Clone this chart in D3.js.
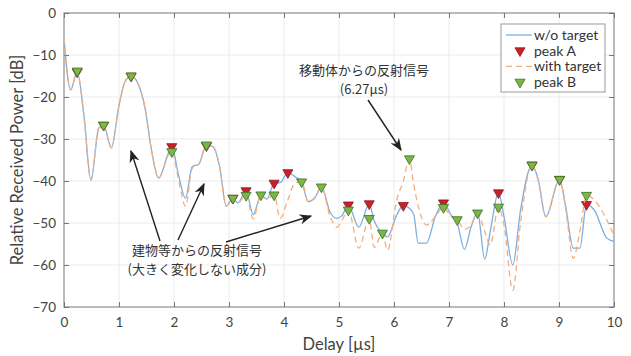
<!DOCTYPE html>
<html>
<head>
<meta charset="utf-8">
<script src="https://cdn.jsdelivr.net/npm/d3@7"></script>
<style>
  body { margin: 0; background: #fff; }
  svg text { font-family: Lato, "Open Sans", sans-serif; }
  .jp { font-family: "Noto Sans CJK JP", sans-serif; }
</style>
</head>
<body>
<div id="chart"></div>
<script>
// delay axis samples [us]
const delay = [0.00, 0.12, 0.24, 0.36, 0.49, 0.63, 0.72, 0.86, 1.00, 1.11, 1.22, 1.33, 1.48, 1.59, 1.72,
  1.90, 1.96, 2.08, 2.21, 2.33, 2.45, 2.59, 2.71, 2.83, 2.95, 3.07, 3.16, 3.31, 3.44, 3.58, 3.69,
  3.82, 3.93, 4.07, 4.20, 4.32, 4.44, 4.56, 4.68, 4.84, 4.96, 5.05, 5.17, 5.36, 5.55, 5.64, 5.79,
  5.88, 6.05, 6.17, 6.28, 6.36, 6.44, 6.59, 6.75, 6.90, 7.04, 7.15, 7.28, 7.40, 7.52, 7.65, 7.75,
  7.90, 8.00, 8.16, 8.30, 8.51, 8.62, 8.76, 9.01, 9.12, 9.26, 9.38, 9.50, 9.64, 9.87, 10.00];
// w/o target
const powerNoTarget = [-6.0, -18.3, -14.0, -24.0, -39.8, -27.5, -26.7, -32.1, -22.0, -16.3, -15.0, -16.4, -23.1, -32.6, -39.3,
  -33.3, -31.8, -38.5, -44.1, -36.6, -36.0, -31.5, -31.8, -36.6, -46.0, -44.1, -45.2, -42.4, -48.0, -43.4, -44.3,
  -40.5, -40.4, -38.0, -39.0, -40.2, -44.9, -44.0, -41.4, -47.5, -48.9, -48.3, -45.8, -51.0, -45.5, -49.5, -52.4,
  -53.3, -48.1, -45.8, -46.5, -48.0, -54.8, -54.8, -48.5, -45.3, -48.1, -50.0, -56.3, -51.0, -47.5, -58.6, -52.0,
  -42.8, -48.5, -60.0, -47.0, -36.2, -39.5, -48.5, -39.6, -46.0, -56.0, -56.0, -45.6, -46.9, -53.6, -54.4];
// with target
const powerTarget = [-6.0, -18.3, -14.0, -24.5, -39.8, -27.5, -26.7, -32.1, -22.0, -16.3, -15.0, -16.4, -23.1, -32.6, -39.3,
  -33.8, -33.0, -39.5, -46.0, -37.0, -36.0, -31.5, -31.8, -36.6, -46.0, -44.1, -45.2, -43.4, -49.0, -43.4, -44.3,
  -43.3, -48.9, -44.5, -40.5, -40.2, -44.9, -44.0, -41.4, -48.5, -51.0, -49.5, -46.9, -56.0, -48.9, -55.8, -52.4,
  -56.5, -44.5, -40.0, -34.7, -41.0, -46.0, -50.5, -48.5, -46.3, -48.5, -49.2, -51.5, -50.5, -47.6, -52.0, -55.2,
  -46.2, -50.5, -66.0, -50.0, -36.2, -39.8, -48.5, -39.6, -46.5, -58.4, -52.0, -43.4, -44.5, -49.3, -52.9];
// peaks of w/o target
const peakADelay = [0.24, 0.72, 1.22, 1.96, 2.59, 3.07, 3.31, 3.82, 4.07, 5.17, 5.55, 6.17, 6.90, 7.90, 8.51, 9.01, 9.50];
const peakAPower = [-14.0, -26.7, -15.0, -31.8, -31.6, -44.1, -42.3, -40.5, -38.0, -45.7, -45.4, -45.8, -45.2, -42.8, -36.2, -39.6, -45.6];
// peaks of with target
const peakBDelay = [0.24, 0.72, 1.22, 1.96, 2.59, 3.07, 3.31, 3.58, 3.82, 4.32, 4.68, 5.17, 5.55, 5.79, 6.28, 6.90, 7.15, 7.52, 7.90, 8.51, 9.01, 9.50];
const peakBPower = [-13.8, -26.7, -15.0, -33.0, -31.4, -44.1, -43.4, -43.3, -43.3, -40.2, -41.4, -46.9, -48.9, -52.4, -34.7, -46.3, -49.2, -47.6, -46.2, -36.2, -39.6, -43.4];

const xTicks = d3.range(0, 11, 1);
const yTicks = d3.range(-70, 1, 10);

const W = 631, H = 356;
const margin = {top: 13, right: 17, bottom: 49, left: 64};
const w = W - margin.left - margin.right;
const h = H - margin.top - margin.bottom;

const blue = "#7cafe0", orange = "#f4ae7c";
const red = "#c8202c", green = "#7ab648";

const svg = d3.select("#chart").append("svg")
  .attr("width", W).attr("height", H);
const g = svg.append("g")
  .attr("transform", "translate(" + margin.left + "," + margin.top + ")");

const x = d3.scaleLinear().domain([0, 10]).range([0, w]);
const y = d3.scaleLinear().domain([-70, 0]).range([h, 0]);

// grid
g.append("g").selectAll("line").data(xTicks.slice(1, -1)).join("line")
  .attr("x1", d => x(d)).attr("x2", d => x(d)).attr("y1", 0).attr("y2", h)
  .attr("stroke", "#ebebeb");
g.append("g").selectAll("line").data(yTicks.slice(1, -1)).join("line")
  .attr("y1", d => y(d)).attr("y2", d => y(d)).attr("x1", 0).attr("x2", w)
  .attr("stroke", "#ebebeb");

// axes (MATLAB style, inward ticks, box)
const axisColor = "#777";
function styleAxis(sel) {
  sel.select(".domain").remove();
  sel.selectAll("line").attr("stroke", axisColor);
  sel.selectAll("text").attr("fill", "#444").style("font-size", "13.5px");
}
g.append("g").attr("transform", "translate(0," + h + ")")
  .call(d3.axisBottom(x).tickValues(xTicks).tickSize(-5).tickPadding(10).tickFormat(d3.format("d")))
  .call(styleAxis);
g.append("g")
  .call(d3.axisTop(x).tickValues(xTicks).tickSize(-5).tickFormat(""))
  .call(styleAxis);
g.append("g")
  .call(d3.axisLeft(y).tickValues(yTicks).tickSize(-5).tickPadding(8).tickFormat(d3.format("d")))
  .call(styleAxis);
g.append("g").attr("transform", "translate(" + w + ",0)")
  .call(d3.axisRight(y).tickValues(yTicks).tickSize(-5).tickFormat(""))
  .call(styleAxis);
g.append("rect").attr("width", w).attr("height", h)
  .attr("fill", "none").attr("stroke", axisColor);

// series: blue line, peak A, dashed line, peak B (plot order)
const line = d3.line().x(d => x(d[0])).y(d => y(d[1])).curve(d3.curveMonotoneX);
const tri = d3.symbol().type(d3.symbolTriangle).size(44);
function markers(ts, vs, fill, edge) {
  g.append("g").selectAll("path").data(ts.map((t, i) => [t, vs[i]])).join("path")
    .attr("d", tri)
    .attr("transform", d => "translate(" + x(d[0]) + "," + y(d[1]) + ") rotate(180)")
    .attr("fill", fill).attr("stroke", edge).attr("stroke-width", 0.8);
}

g.append("path")
  .datum(delay.map((t, i) => [t, powerNoTarget[i]]))
  .attr("fill", "none").attr("stroke", blue).attr("stroke-width", 1.3)
  .attr("d", line);

markers(peakADelay, peakAPower, red, "#8a1a1a");

g.append("path")
  .datum(delay.map((t, i) => [t, powerTarget[i]]))
  .attr("fill", "none").attr("stroke", orange).attr("stroke-width", 1.3)
  .attr("stroke-dasharray", "6,4")
  .attr("d", line);

markers(peakBDelay, peakBPower, green, "#3f6f22");

// axis labels
svg.append("text")
  .attr("transform", "translate(23," + (margin.top + h / 2) + ") rotate(-90)")
  .attr("text-anchor", "middle").attr("fill", "#444").style("font-size", "16.5px")
  .text("Relative Received Power [dB]");
svg.append("text")
  .attr("x", margin.left + w / 2).attr("y", 350)
  .attr("text-anchor", "middle").attr("fill", "#444").style("font-size", "16.5px")
  .text("Delay [µs]");

// legend
const lg = svg.append("g").attr("transform", "translate(501,24)");
lg.append("rect").attr("width", 104).attr("height", 68)
  .attr("fill", "#fff").attr("stroke", "#999");
const items = [
  {label: "w/o target", type: "line", color: blue},
  {label: "peak A", type: "mark", color: red, edge: "#8a1a1a"},
  {label: "with target", type: "dash", color: orange},
  {label: "peak B", type: "mark", color: green, edge: "#3f6f22"}
];
items.forEach((it, i) => {
  const yy = 11 + i * 15.7;
  if (it.type === "mark") {
    lg.append("path").attr("d", tri)
      .attr("transform", "translate(19," + yy + ") rotate(180)")
      .attr("fill", it.color).attr("stroke", it.edge).attr("stroke-width", 0.8);
  } else {
    lg.append("line").attr("x1", 5).attr("x2", 31).attr("y1", yy).attr("y2", yy)
      .attr("stroke", it.color).attr("stroke-width", 1.3)
      .attr("stroke-dasharray", it.type === "dash" ? "6,4" : null);
  }
  lg.append("text").attr("x", 33).attr("y", yy + 5)
    .attr("fill", "#333").style("font-size", "14px").text(it.label);
});

// annotations
const defs = svg.append("defs");
defs.append("marker").attr("id", "ah").attr("viewBox", "0 0 10 10")
  .attr("refX", 9).attr("refY", 5).attr("markerWidth", 9).attr("markerHeight", 9)
  .attr("orient", "auto")
  .append("path").attr("d", "M0,1 L10,5 L0,9 L3,5 Z").attr("fill", "#222");

function arrow(x1, y1, x2, y2) {
  svg.append("line").attr("x1", x1).attr("y1", y1).attr("x2", x2).attr("y2", y2)
    .attr("stroke", "#222").attr("stroke-width", 1.4).attr("marker-end", "url(#ah)");
}
function note(cx, cy, lines) {
  lines.forEach((s, i) => {
    svg.append("text").attr("class", "jp")
      .attr("x", cx).attr("y", cy + i * 19.5)
      .attr("text-anchor", "middle").attr("dominant-baseline", "middle")
      .attr("fill", "#333").style("font-size", "13px").text(s);
  });
}
note(364, 71, ["移動体からの反射信号", "(6.27µs)"]);
arrow(368, 100, 401, 150);

note(197, 251, ["建物等からの反射信号", "(大きく変化しない成分)"]);
arrow(160, 241, 131, 151);
arrow(178, 240, 204, 184);
arrow(226, 242, 311, 216);
</script>
</body>
</html>
